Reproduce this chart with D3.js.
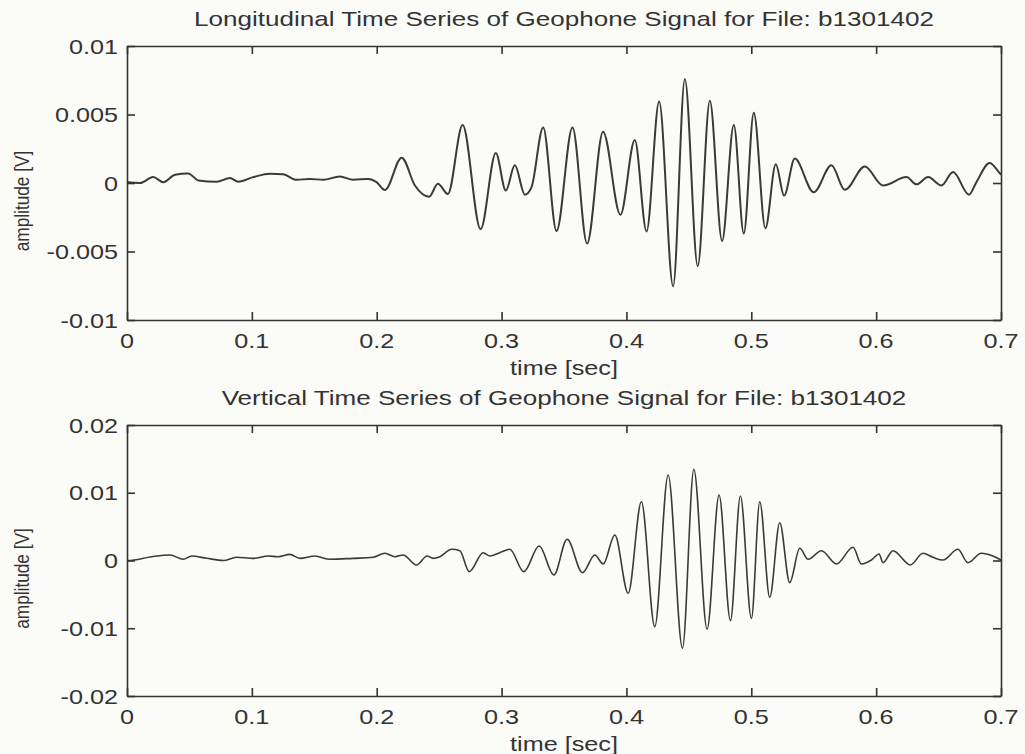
<!DOCTYPE html>
<html>
<head>
<meta charset="utf-8">
<script src="https://cdn.jsdelivr.net/npm/d3@7"></script>
<style>
  body { margin: 0; background: #fbfbf7; }
  svg { display: block; }
  text { font-family: "Liberation Sans", Arial, sans-serif; fill: #333; }
</style>
</head>
<body>
<div id="chart"></div>
<script>
/*********************************
   GEOPHONE SIGNAL DATA
 *********************************/

// Longitudinal Component (time in sec, amplitude in V)
let longTime = [
  0, .001, .0104, .021, .029, .0384, .0491, .0571, .0718, .0825,
  .0891, .1011, .1145, .1251, .1359, .1465, .1572, .1705, .1812, .1932,
  .1999, .2066, .22, .2306, .242, .249, .257, .2688, .2832, .2954,
  .3034, .3106, .3187, .324, .3333, .344, .3568, .3685, .3813, .3952,
  .4067, .4161, .4262, .4374, .4468, .4571, .4668, .4766, .486, .494,
  .502, .5113, .5196, .5263, .5348, .55, .5642, .5749, .5909, .6055,
  .6243, .6323, .6416, .6523, .6616, .6744, .6803, .6909, .6976, .7
];
let longAmp = [
  .0001, .00006, 0, .00043, .00006, .0006, .0007, .00019, .0001, .00036,
  .0001, .00043, .00068, .00063, .00023, .0003, .00023, .00048, .00023, .0003,
  .00006, -.00051, .00185, -.00018, -.001, -.00006, -.0008, .00423, -.00337, .00219,
  -.00055, .00129, -.00085, -.0003, .00406, -.0035, .00406, -.00442, .00374, -.00232,
  .00313, -.00354, .00594, -.00754, .00759, -.00607, .00601, -.00423, .00423, -.00369,
  .00513, -.0033, .00136, -.00092, .00178, -.00068, .00129, -.0005, .00121, -.00018,
  .00043, -.0001, .00043, -.00018, .0008, -.00085, .00006, .00146, .00087, .0006
];

// Vertical Component (time in sec, amplitude in V)
let vertTime = [
  0, .001, .0198, .0344, .0451, .0518, .0638, .0771, .0878, .1011,
  .1131, .1211, .1305, .1385, .1505, .1625, .1812, .1972, .2066, .2146,
  .2212, .2319, .2404, .2452, .2506, .26, .2666, .2741, .2853, .2906,
  .2986, .3066, .3178, .3301, .3419, .3525, .3648, .3747, .3814, .3907,
  .4014, .412, .4227, .4334, .4449, .454, .4646, .4742, .4833, .4913,
  .5001, .5068, .5148, .5228, .5308, .5388, .5455, .5562, .5682, .5815,
  .5882, .5962, .6023, .6055, .6135, .6274, .6375, .6455, .6535, .6655,
  .6735, .6842, .6935, .7
];
let vertAmp = [
  0, 0, .00056, .00081, .00018, .00066, .00032, 0, .00047, .00032,
  .00066, .00056, .00091, .00032, .00066, .00018, .00032, .00047, .00106, .00056,
  .00081, -.00066, .00066, .00032, .00056, .00165, .00145, -.00165, .00115, .00066,
  .00115, .00165, -.00165, .00214, -.00214, .00313, -.0018, .00081, -.00052, .00376,
  -.00484, .00867, -.00976, .01261, -.01295, .01345, -.01015, .00966, -.00888, .00951,
  -.00853, .00867, -.00543, .00558, -.00327, .0018, .00018, .00145, -.00052, .00195,
  -.00052, .00007, .00096, -.00032, .00145, -.00066, .00106, .00047, .00007, .00165,
  -.00032, .00106, .00066, .00007
];

// Tick Values
let timeTicks = [0, 0.1, 0.2, 0.3, 0.4, 0.5, 0.6, 0.7];
let longTicks = [-0.01, -0.005, 0, 0.005, 0.01];
let vertTicks = [-0.02, -0.01, 0, 0.01, 0.02];

// Titles
let longTitle = "Longitudinal Time Series of Geophone Signal for File: b1301402";
let vertTitle = "Vertical Time Series of Geophone Signal for File: b1301402";

/*********************************
   DRAWING
 *********************************/

let w = 1025, h = 754;
let svg = d3.select("#chart").append("svg").attr("width", w).attr("height", h);

// Stretch Text Horizontally Like The Scanned Original
function stretch(sel, factor) {
  sel.each(function () {
    let len = this.getComputedTextLength();
    d3.select(this).attr("textLength", len * factor).attr("lengthAdjust", "spacingAndGlyphs");
  });
}

// Draw One Panel Of The Figure
function drawPanel(top, bottom, times, amps, yTicks, title, lineWidth) {
  let left = 127, right = 1001;
  let x = d3.scaleLinear().domain([0, 0.7]).range([left, right]);
  let y = d3.scaleLinear().domain([yTicks[0], yTicks[yTicks.length - 1]]).range([bottom, top]);
  let g = svg.append("g");

  // Signal Line
  let line = d3.line().x((d) => x(d[0])).y((d) => y(d[1])).curve(d3.curveMonotoneX);
  g.append("path").datum(times.map((t, i) => [t, amps[i]]))
    .attr("d", line).attr("fill", "none").attr("stroke", "#3a3a3a")
    .attr("stroke-width", lineWidth).attr("stroke-linejoin", "round");

  // Axes With Inward Ticks On All Four Sides
  let tick = 8;
  g.append("g").attr("transform", "translate(0," + bottom + ")")
    .call(d3.axisBottom(x).tickValues(timeTicks).tickSizeInner(-tick).tickSizeOuter(0).tickFormat(""));
  g.append("g").attr("transform", "translate(0," + top + ")")
    .call(d3.axisTop(x).tickValues(timeTicks).tickSizeInner(-tick).tickSizeOuter(0).tickFormat(""));
  g.append("g").attr("transform", "translate(" + left + ",0)")
    .call(d3.axisLeft(y).tickValues(yTicks).tickSizeInner(-tick).tickSizeOuter(0).tickFormat(""));
  g.append("g").attr("transform", "translate(" + right + ",0)")
    .call(d3.axisRight(y).tickValues(yTicks).tickSizeInner(-tick).tickSizeOuter(0).tickFormat(""));
  g.selectAll(".domain, .tick line").attr("stroke", "#333").attr("stroke-width", 1.6);

  // Tick Labels
  let xl = g.selectAll("text.xl").data(timeTicks).enter().append("text").attr("class", "xl")
    .attr("x", (d) => x(d)).attr("y", bottom + 28).attr("text-anchor", "middle")
    .style("font-size", "21px").text((d) => String(d));
  let yl = g.selectAll("text.yl").data(yTicks).enter().append("text").attr("class", "yl")
    .attr("x", 118).attr("y", (d) => y(d) + 7.5).attr("text-anchor", "end")
    .style("font-size", "21px").text((d) => String(d));

  // Axis Titles And Panel Title
  let xt = g.append("text").attr("x", (left + right) / 2).attr("y", bottom + 55)
    .attr("text-anchor", "middle").style("font-size", "21px").text("time [sec]");
  let tt = g.append("text").attr("x", (left + right) / 2).attr("y", top - 20)
    .attr("text-anchor", "middle").style("font-size", "21px").text(title);
  let yt = g.append("text").attr("transform", "translate(29," + ((top + bottom) / 2 + 18) + ") rotate(-90)")
    .attr("text-anchor", "middle").style("font-size", "21px").text("amplitude [V]");

  stretch(xl, 1.2); stretch(yl, 1.2); stretch(xt, 1.2); stretch(tt, 1.24);
  stretch(yt, 0.82);
}

drawPanel(46, 320, longTime, longAmp, longTicks, longTitle, 2);
drawPanel(425, 696, vertTime, vertAmp, vertTicks, vertTitle, 1.6);
</script>
</body>
</html>
